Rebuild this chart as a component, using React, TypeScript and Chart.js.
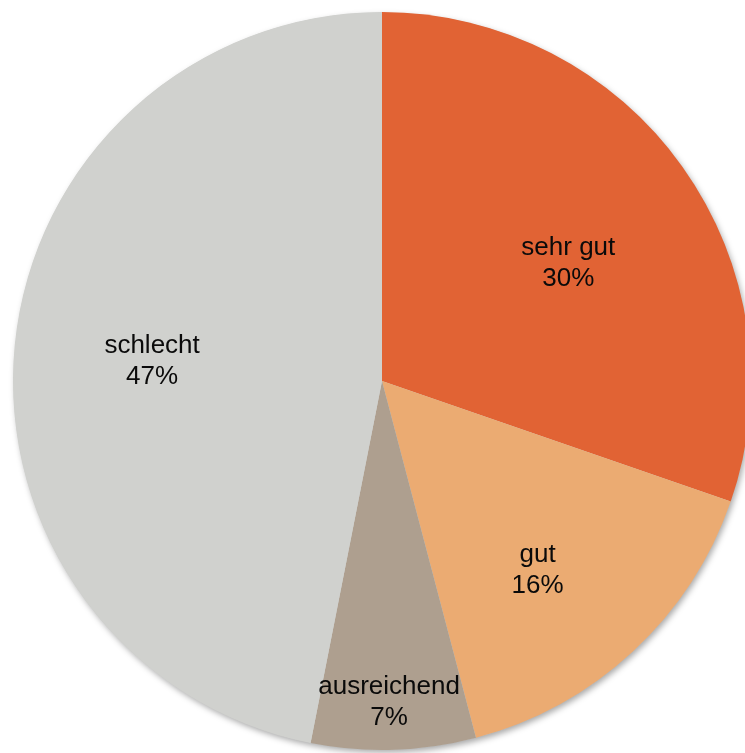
import React, { useEffect, useRef } from "react";
import { Chart, registerables } from "chart.js";

Chart.register(...registerables);

const categories = ["sehr gut", "gut", "ausreichend", "schlecht"];
const values = [30.3, 15.6, 7.2, 46.9];
const colors = ["#E16334", "#EBAB72", "#AE9F8F", "#D0D1CE"];

// label placement: fraction of radius along slice mid-angle, plus small nudges
const labelRadius = [0.6, 0.66, 0.87, 0.626];
const labelNudge = [
  [6, 10],
  [-10, 10],
  [-3, 0],
  [0, 2],
];

const shadowPlugin = {
  id: "pieShadow",
  beforeDatasetsDraw(chart: any) {
    const arc = chart.getDatasetMeta(0).data[0];
    if (!arc) return;
    const { x, y, outerRadius } = arc.getProps(["x", "y", "outerRadius"], true);
    const ctx = chart.ctx;
    ctx.save();
    ctx.shadowColor = "rgba(0,0,0,0.35)";
    ctx.shadowBlur = 6;
    ctx.shadowOffsetX = 2;
    ctx.shadowOffsetY = 3;
    ctx.fillStyle = "#D0D1CE";
    ctx.beginPath();
    ctx.arc(x, y, outerRadius - 0.5, 0, Math.PI * 2);
    ctx.fill();
    ctx.restore();
  },
};

const labelPlugin = {
  id: "sliceLabels",
  afterDatasetsDraw(chart: any) {
    const ctx = chart.ctx;
    const meta = chart.getDatasetMeta(0);
    const total = values.reduce((a, b) => a + b, 0);
    ctx.save();
    ctx.font = "26px 'Liberation Sans', Arial, sans-serif";
    ctx.fillStyle = "#0a0a0a";
    ctx.textAlign = "center";
    ctx.textBaseline = "middle";
    meta.data.forEach((arc: any, i: number) => {
      const { x, y, startAngle, endAngle, outerRadius } = arc.getProps(
        ["x", "y", "startAngle", "endAngle", "outerRadius"],
        true
      );
      const mid = (startAngle + endAngle) / 2;
      const r = outerRadius * labelRadius[i];
      const cx = x + Math.cos(mid) * r + labelNudge[i][0];
      const cy = y + Math.sin(mid) * r + labelNudge[i][1];
      const pct = Math.round((values[i] / total) * 100) + "%";
      ctx.fillText(categories[i], cx, cy - 15);
      ctx.fillText(pct, cx, cy + 16);
    });
    ctx.restore();
  },
};

export default function App() {
  const ref = useRef<HTMLCanvasElement | null>(null);
  useEffect(() => {
    if (!ref.current) return;
    const chart = new Chart(ref.current, {
      type: "pie",
      data: {
        labels: categories,
        datasets: [
          {
            data: values,
            backgroundColor: colors,
            borderWidth: 0,
          },
        ],
      },
      options: {
        animation: false,
        responsive: false,
        maintainAspectRatio: false,
        layout: { padding: 12 },
        plugins: {
          legend: { display: false },
          tooltip: { enabled: false },
        },
      },
      plugins: [shadowPlugin, labelPlugin],
    });
    return () => chart.destroy();
  }, []);
  return (
    <div style={{ position: "absolute", left: 0, top: 0, width: 745, height: 753, overflow: "hidden" }}>
      <canvas ref={ref} width={764} height={762} style={{ display: "block" }} />
    </div>
  );
}
